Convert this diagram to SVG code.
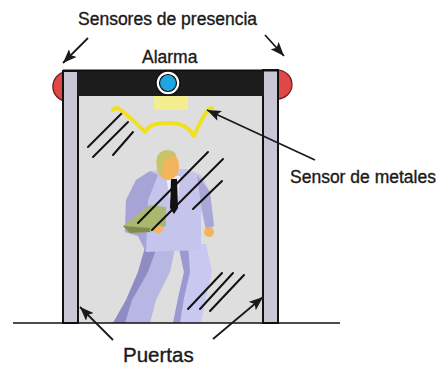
<svg xmlns="http://www.w3.org/2000/svg" width="436" height="366" viewBox="0 0 436 366">
  <style>
    .lbl { font-family: "Liberation Sans", Arial, sans-serif; fill: #1a1a1a; stroke: #1a1a1a; stroke-width: 0.35; }
    .pillar { fill: #c9c6d6; stroke: #111; stroke-width: 2; }
    .sensor { fill: #e04848; stroke: #6a1a1a; stroke-width: 1.2; }
    .glint { stroke: #111; stroke-width: 2; stroke-linecap: round; }
    .conn { stroke: #1a1a1a; stroke-width: 1.8; fill: none; marker-end: url(#arrow); }
  </style>
  <defs>
    <marker id="arrow" markerUnits="userSpaceOnUse" markerWidth="15" markerHeight="11" refX="14" refY="5.5" orient="auto">
      <path d="M0,0 L14,5.5 L0,11 L3,5.5 Z" fill="#1a1a1a"/>
    </marker>
  </defs>

  <rect width="436" height="366" fill="#ffffff"/>

  <!-- interior of the arch -->
  <rect x="78" y="96" width="185" height="227" fill="#dedede"/>

  <!-- walking figure -->
  <g id="person">
    <!-- legs -->
    <path d="M146,244 L176,244 L170,272 L156,300 L150,323 L113,323 L126,300 L138,272 Z" fill="#b8b6e2"/>
    <path d="M146,244 L158,244 L148,272 L132,300 L125,323 L113,323 L126,300 L138,272 Z" fill="#8f8cc4"/>
    <path d="M178,244 L206,244 L212,272 L206,298 L201,323 L173,323 L178,298 L184,272 Z" fill="#c8c8f0"/>
    <path d="M178,244 L188,244 L190,272 L184,298 L180,323 L173,323 L178,298 L184,272 Z" fill="#9c99d0"/>
    <!-- jacket and arms -->
    <path d="M150,171 L186,169 L201,175 L210,192 L214,226 L206,230 L201,210 L201,250 L146,252 L138,236 L125,232 L126,200 L136,180 Z" fill="#c4c4ec"/>
    <path d="M150,171 L158,175 L148,200 L146,252 L138,236 L125,232 L126,200 L136,180 Z" fill="#a6a4d6"/>
    <path d="M197,175 L210,192 L214,226 L206,230 L201,205 Z" fill="#a9a7d8"/>
    <!-- shirt and tie -->
    <path d="M166,176 L180,176 L178,200 L170,200 Z" fill="#eeeef8"/>
    <path d="M171,179 L177,179 L178,208 L174,214 L170,208 Z" fill="#111"/>
    <!-- briefcase -->
    <path d="M123,226 L150,205 L166,207 L166,226 L150,232 L130,233 Z" fill="#a9b86e"/>
    <path d="M123,226 L130,233 L150,232 L150,228 Z" fill="#7f8c4c"/>
    <!-- hands -->
    <ellipse cx="158" cy="229" rx="5" ry="4" fill="#f2b45c"/>
    <ellipse cx="209" cy="232" rx="5" ry="5" fill="#f2b45c"/>
    <!-- head -->
    <ellipse cx="168" cy="166" rx="11" ry="14" fill="#f2b45c"/>
    <path d="M157,168 Q154,152 166,150 Q176,150 176,156 Q168,156 164,162 L162,176 Q157,174 157,168 Z" fill="#c9c46a"/>
  </g>

  <!-- reflections on the glass doors -->
  <g id="reflections">
    <line class="glint" x1="88" y1="147" x2="123" y2="112"/>
    <line class="glint" x1="93" y1="157" x2="128" y2="122"/>
    <line class="glint" x1="113" y1="155" x2="133" y2="132"/>
    <line class="glint" x1="138" y1="223" x2="208" y2="152"/>
    <line class="glint" x1="152" y1="230" x2="223" y2="159"/>
    <line class="glint" x1="193" y1="209" x2="222" y2="181"/>
    <line class="glint" x1="188" y1="309" x2="222" y2="273"/>
    <line class="glint" x1="200" y1="309" x2="233" y2="273"/>
    <line class="glint" x1="210" y1="311" x2="244" y2="275"/>
  </g>

  <!-- presence sensors -->
  <g id="sensor-left">
    <path class="sensor" d="M64,72 A15,15 0 0 0 64,101 Z"/>
  </g>
  <g id="sensor-right">
    <path class="sensor" d="M277,70 A15,14.5 0 0 1 277,99 Z"/>
  </g>

  <!-- door pillars -->
  <g id="door-left">
    <rect class="pillar" x="63" y="71" width="15" height="252"/>
  </g>
  <g id="door-right">
    <rect class="pillar" x="263" y="70" width="15" height="253"/>
  </g>

  <!-- top beam -->
  <g id="beam">
    <rect x="77" y="70" width="187" height="26" fill="#1c1c1c"/>
    <line x1="63" y1="70.5" x2="278" y2="70.5" stroke="#111" stroke-width="2"/>
  </g>

  <!-- alarm beacon -->
  <g id="alarm">
    <circle cx="168" cy="83" r="12" fill="#ffffff" stroke="#111" stroke-width="1.5"/>
    <circle cx="168" cy="83" r="8.5" fill="#1ea6e2" stroke="#111" stroke-width="1.2"/>
  </g>

  <!-- metal sensor -->
  <g id="metal-sensor">
    <rect x="154" y="96" width="34" height="14" fill="#f4ee90"/>
    <path d="M113,110 Q117,106 122,111 Q134,120 145,132 Q150,122 168,123 Q186,122 194,136 Q200,122 205,114 Q208,109 212,108" fill="none" stroke="#f0e020" stroke-width="4" stroke-linejoin="round" stroke-linecap="round"/>
  </g>

  <!-- ground -->
  <line x1="13" y1="323" x2="340" y2="323" stroke="#111" stroke-width="1.6"/>

  <!-- connectors -->
  <g id="connectors">
    <line class="conn" x1="88" y1="38" x2="63" y2="63"/>
    <line class="conn" x1="265" y1="35" x2="284" y2="56"/>
    <line class="conn" x1="315" y1="160" x2="207" y2="110"/>
    <line class="conn" x1="113" y1="340" x2="80" y2="307"/>
    <line class="conn" x1="213" y1="339" x2="263" y2="297"/>
  </g>

  <!-- labels -->
  <g id="labels">
    <text class="lbl" x="78" y="25" font-size="17.5">Sensores de presencia</text>
    <text class="lbl" x="142" y="63" font-size="17.5">Alarma</text>
    <text class="lbl" x="290" y="183" font-size="17.5">Sensor de metales</text>
    <text class="lbl" x="123" y="362" font-size="20.5">Puertas</text>
  </g>
</svg>
